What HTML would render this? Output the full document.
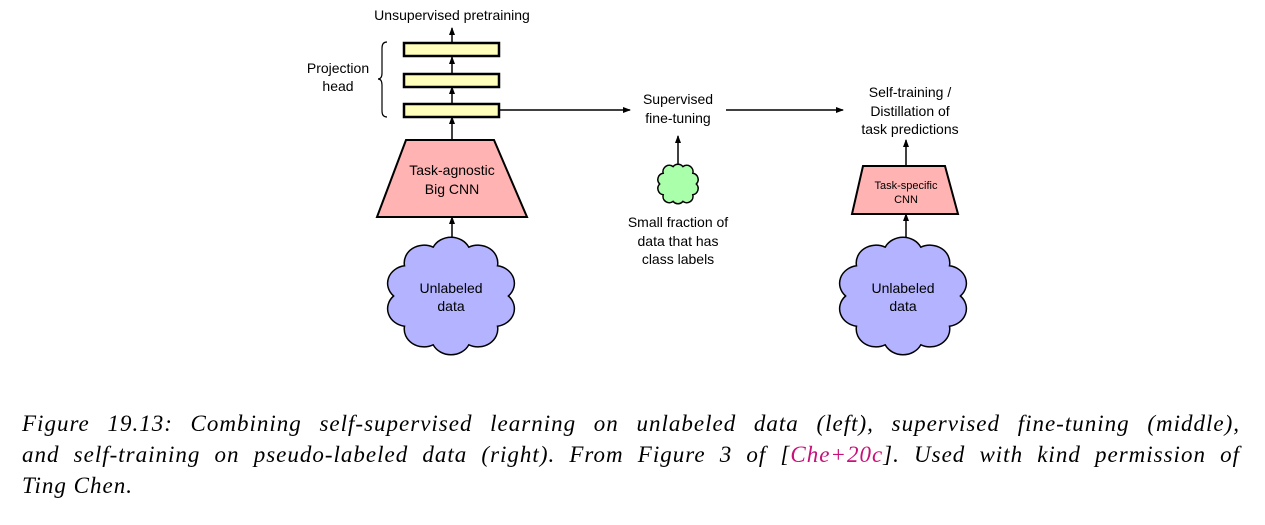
<!DOCTYPE html>
<html><head><meta charset="utf-8"><style>
body{margin:0;background:#fff;width:1265px;height:525px;overflow:hidden;position:relative}
svg{position:absolute;left:0;top:0}
.cap{position:absolute;left:22px;width:1218px;font-family:"Liberation Serif",serif;font-style:italic;font-size:23px;letter-spacing:1px;color:#000;white-space:nowrap}
.j{text-align:justify;text-align-last:justify}
</style></head><body>
<svg width="1265" height="400" viewBox="0 0 1265 400" font-family="Liberation Sans, sans-serif" font-size="14">
<defs>
<marker id="a" markerWidth="8" markerHeight="8" refX="7" refY="4" orient="auto" markerUnits="userSpaceOnUse"><path d="M0,1 L8,4 L0,7 z" fill="#000"/></marker>
</defs>
<g text-anchor="middle" fill="#000">
<text x="452" y="20">Unsupervised pretraining</text>
<text x="338" y="73">Projection</text>
<text x="338" y="91">head</text>
<text x="678" y="104">Supervised</text>
<text x="678" y="123">fine-tuning</text>
<text x="910" y="97">Self-training /</text>
<text x="910" y="116">Distillation of</text>
<text x="910" y="134">task predictions</text>
<text x="678" y="227">Small fraction of</text>
<text x="678" y="246">data that has</text>
<text x="678" y="264">class labels</text>
</g>
<g stroke="#000" stroke-width="1.5" fill="none">
<line x1="452" y1="43" x2="452" y2="28" marker-end="url(#a)"/>
<line x1="452" y1="73" x2="452" y2="57" marker-end="url(#a)"/>
<line x1="452" y1="103" x2="452" y2="87" marker-end="url(#a)"/>
<line x1="452" y1="140" x2="452" y2="117" marker-end="url(#a)"/>
<line x1="452" y1="240" x2="452" y2="217" marker-end="url(#a)"/>
<line x1="499" y1="110" x2="630" y2="110" marker-end="url(#a)"/>
<line x1="726" y1="110" x2="843" y2="110" marker-end="url(#a)"/>
<line x1="678" y1="164" x2="678" y2="136" marker-end="url(#a)"/>
<line x1="906" y1="166" x2="906" y2="140" marker-end="url(#a)"/>
<line x1="906" y1="241" x2="906" y2="214" marker-end="url(#a)"/>
<path d="M387,42 Q382,42 382,48 L382,73 Q382,79 378,79 Q382,79 382,85 L382,111 Q382,117 387,117" stroke-width="1.2"/>
</g>
<g stroke="#000" stroke-width="2.5" fill="#ffffbb">
<rect x="404" y="43" width="95" height="13"/>
<rect x="404" y="74" width="95" height="13"/>
<rect x="404" y="104" width="95" height="13"/>
</g>
<polygon points="406,140 494,140 527,217 377,217" fill="#ffb3b3" stroke="#000" stroke-width="2"/>
<polygon points="863,166 945,166 958,214 852,214" fill="#ffb3b3" stroke="#000" stroke-width="2"/>
<g stroke="#000" stroke-width="1.5">
<path fill="#b3b3ff" d="M508.4,296 A19.8,17.7 0 0 1 497.5,326.2 A19.8,17.7 0 0 1 468.8,344.8 A19.8,17.7 0 0 1 433.2,344.8 A19.8,17.7 0 0 1 404.5,326.2 A19.8,17.7 0 0 1 393.6,296 A19.8,17.7 0 0 1 404.5,265.8 A19.8,17.7 0 0 1 433.2,247.2 A19.8,17.7 0 0 1 468.8,247.2 A19.8,17.7 0 0 1 497.5,265.8 A19.8,17.7 0 0 1 508.4,296 Z"/>
<path fill="#b3b3ff" d="M960.4,296 A19.8,17.7 0 0 1 949.5,326.2 A19.8,17.7 0 0 1 920.8,344.8 A19.8,17.7 0 0 1 885.2,344.8 A19.8,17.7 0 0 1 856.5,326.2 A19.8,17.7 0 0 1 845.6,296 A19.8,17.7 0 0 1 856.5,265.8 A19.8,17.7 0 0 1 885.2,247.2 A19.8,17.7 0 0 1 920.8,247.2 A19.8,17.7 0 0 1 949.5,265.8 A19.8,17.7 0 0 1 960.4,296 Z"/>
<path fill="#aaffaa" d="M696.3,184 A6.3,6.3 0 0 1 692.8,194.7 A6.3,6.3 0 0 1 682.9,201.4 A6.3,6.3 0 0 1 673.1,201.4 A6.3,6.3 0 0 1 663.2,194.7 A6.3,6.3 0 0 1 659.7,184 A6.3,6.3 0 0 1 663.2,173.3 A6.3,6.3 0 0 1 673.1,166.6 A6.3,6.3 0 0 1 682.9,166.6 A6.3,6.3 0 0 1 692.8,173.3 A6.3,6.3 0 0 1 696.3,184 Z"/>
</g>
<g text-anchor="middle" fill="#000">
<text x="452" y="175">Task-agnostic</text>
<text x="452" y="194">Big CNN</text>
<text x="451" y="293">Unlabeled</text>
<text x="451" y="311">data</text>
<text x="903" y="293">Unlabeled</text>
<text x="903" y="311">data</text>
<text x="906" y="189" font-size="11">Task-specific</text>
<text x="906" y="203" font-size="11">CNN</text>
</g>
</svg>
<div class="cap j" style="top:411px">Figure 19.13: Combining self-supervised learning on unlabeled data (left), supervised fine-tuning (middle),</div>
<div class="cap j" style="top:442px">and self-training on pseudo-labeled data (right). From Figure 3 of [<span style="color:#c8107a">Che+20c</span>]. Used with kind permission of</div>
<div class="cap" style="top:473px">Ting Chen.</div>
</body></html>
